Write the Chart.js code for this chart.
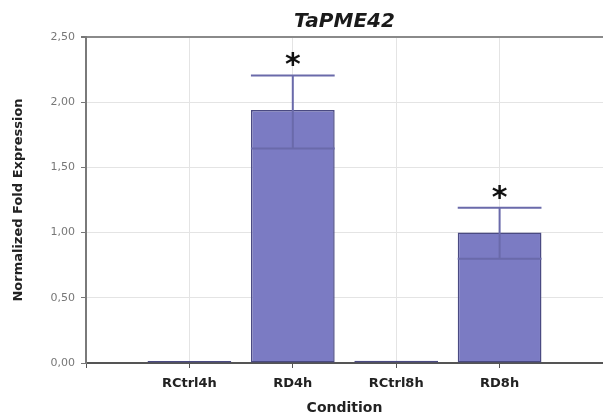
<!DOCTYPE html>
<html>
<head>
<meta charset="utf-8">
<script src="https://cdn.jsdelivr.net/npm/chart.js@4.4.1/dist/chart.umd.min.js"></script>
<style>
  html, body { margin: 0; padding: 0; background: #fff; }
  #wrap { width: 603px; height: 417px; position: relative; }
</style>
</head>
<body>
<div id="wrap"><canvas id="chart"></canvas></div>
<script>
'use strict';

const TITLE = 'TaPME42';
const CATEGORIES = ['RCtrl4h', 'RD4h', 'RCtrl8h', 'RD8h'];
const VALUES = [0.015, 1.94, 0.018, 1.00];
const ERR_HIGH = [null, 2.205, null, 1.19];
const ERR_LOW = [null, 1.645, null, 0.80];
const SIGNIFICANT = [false, true, false, true];
const Y_TICKS = [0, 0.5, 1, 1.5, 2, 2.5];

// empty slot on each side so categories sit on the grid lines
const labels = ['', ...CATEGORIES, ''];
const barData = [null, ...VALUES, null];

const BAR_FILL = '#7b7bc3';
const BAR_BORDER = '#4a4a82';
const ERR_COLOR = '#6a6aaa';

const errorBarPlugin = {
  id: 'errorBars',
  afterDatasetsDraw(chart) {
    const { ctx, scales: { x, y } } = chart;
    const meta = chart.getDatasetMeta(0);
    ctx.save();
    CATEGORIES.forEach((cat, i) => {
      const bar = meta.data[i + 1];
      if (!bar) return;
      const cx = x.getPixelForValue(i + 1);
      const half = bar.width / 2;
      if (ERR_HIGH[i] != null) {
        const yHi = y.getPixelForValue(ERR_HIGH[i]);
        const yLo = y.getPixelForValue(ERR_LOW[i]);
        ctx.strokeStyle = ERR_COLOR;
        ctx.lineWidth = 2;
        ctx.beginPath();
        ctx.moveTo(cx, yHi);
        ctx.lineTo(cx, yLo);
        ctx.moveTo(cx - half, yHi);
        ctx.lineTo(cx + half, yHi);
        ctx.moveTo(cx - half, yLo);
        ctx.lineTo(cx + half, yLo);
        ctx.stroke();
        if (SIGNIFICANT[i]) {
          ctx.fillStyle = '#111';
          ctx.font = 'bold 30px "DejaVu Sans"';
          ctx.textAlign = 'center';
          ctx.textBaseline = 'alphabetic';
          ctx.fillText('*', cx, yHi - 1);
        }
      }
    });
    ctx.restore();
  },
};

new Chart(document.getElementById('chart'), {
  type: 'bar',
  data: {
    labels,
    datasets: [{
      data: barData,
      backgroundColor: BAR_FILL,
      borderColor: BAR_BORDER,
      borderWidth: 1.5,
      borderSkipped: false,
      barPercentage: 0.81,
      categoryPercentage: 1,
    }],
  },
  options: {
    responsive: true,
    maintainAspectRatio: false,
    animation: false,
    layout: { autoPadding: false, padding: 0 },
    plugins: {
      legend: { display: false },
      tooltip: { enabled: false },
      title: {
        display: true,
        text: TITLE,
        fullSize: false,
        color: '#1a1a1a',
        font: { family: '"DejaVu Sans"', size: 20, weight: 'bold', style: 'italic' },
        padding: { top: 10, bottom: 3 },
      },
    },
    scales: {
      x: {
        offset: false,
        grid: {
          offset: false,
          color: '#e4e4e4',
          tickColor: '#555',
          tickLength: 5,
        },
        border: { color: '#555', width: 2 },
        ticks: {
          color: '#222',
          font: { family: '"DejaVu Sans"', size: 13, weight: 'bold' },
          padding: 8,
          autoSkip: false,
          maxRotation: 0,
        },
        title: {
          display: true,
          text: 'Condition',
          color: '#222',
          font: { family: '"DejaVu Sans"', size: 14, weight: 'bold' },
          padding: { top: 0, bottom: 0 },
        },
        afterFit(scale) {
          scale.height = 54;
          scale.paddingLeft = 0;
          scale.paddingRight = 0;
        },
      },
      y: {
        min: 0,
        max: 2.5,
        afterBuildTicks(scale) { scale.ticks = Y_TICKS.map(v => ({ value: v })); },
        grid: {
          color: ctx => (ctx.tick && ctx.tick.value === 2.5 ? '#8a8a8a' : '#e4e4e4'),
          lineWidth: ctx => (ctx.tick && ctx.tick.value === 2.5 ? 2 : 1),
          tickColor: '#777',
          tickLength: 5,
        },
        border: { color: '#7a7a7a', width: 2 },
        ticks: {
          color: '#777',
          font: { family: '"DejaVu Sans"', size: 11 },
          padding: 6,
          callback: v => Number(v).toFixed(2).replace('.', ','),
        },
        title: {
          display: true,
          text: 'Normalized Fold Expression',
          color: '#222',
          font: { family: '"DejaVu Sans"', size: 13, weight: 'bold' },
          padding: { top: 11, bottom: 0 },
        },
        afterFit(scale) { scale.width = 86; },
      },
    },
  },
  plugins: [errorBarPlugin],
});
</script>
</body>
</html>
